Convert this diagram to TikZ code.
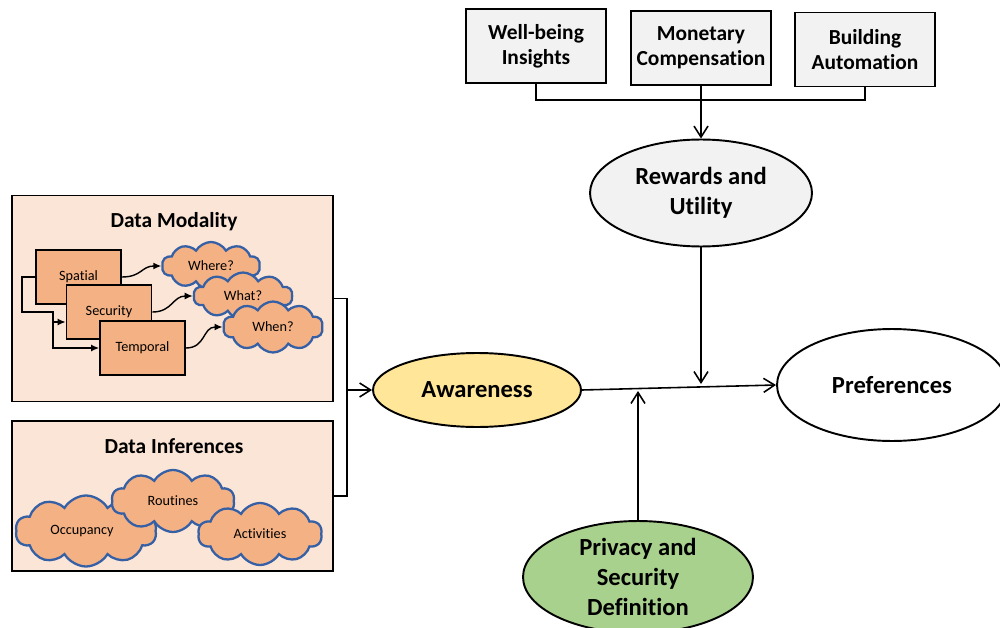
\documentclass[tikz,border=0pt]{standalone}
\usepackage{fontspec}
\setmainfont{Carlito}[Ligatures=NoCommon]
\usetikzlibrary{
  arrows.meta,
  shapes.geometric,
  shapes.symbols,
  positioning
}
\definecolor{panelfill}{HTML}{FBE5D6}
\definecolor{boxfill}{HTML}{F4B183}
\definecolor{puffline}{HTML}{3560A6}
\definecolor{greyfill}{HTML}{F2F2F2}
\definecolor{awarefill}{HTML}{FFE699}
\definecolor{privfill}{HTML}{A9D18E}
\tikzset{
  panel/.style={draw, line width=1.1pt, fill=panelfill, minimum width=6.42cm},
  mbox/.style={draw, line width=1pt, fill=boxfill,
    minimum width=1.7cm, minimum height=1.08cm, font=\fontsize{8.1}{9}\selectfont},
  puff/.style={cloud, cloud puffs=10, cloud puff arc=120, cloud ignores aspect,
    draw=puffline, line width=1.3pt, fill=boxfill, inner sep=0pt,
    font=\fontsize{8.1}{9}\selectfont},
  tbox/.style={draw, line width=1pt, fill=greyfill, minimum width=2.8cm,
    minimum height=1.48cm, align=center, font=\fontsize{12.2}{14.2}\selectfont\bfseries},
  oval/.style={ellipse, draw, line width=1.1pt, align=center, inner sep=0pt,
    font=\fontsize{14}{17}\selectfont\bfseries},
  title/.style={font=\fontsize{12.2}{14}\selectfont\bfseries},
  conn/.style={line width=0.9pt},
  arr/.style={conn, -{Straight Barb[length=2.2mm, width=2.8mm]}},
  arrs/.style={line width=0.8pt, -{Latex[length=1.6mm, width=1.4mm]}},
}
\begin{document}
\begin{tikzpicture}[x=0.02cm, y=-0.02cm]
\useasboundingbox (0,0) rectangle (1000,628);

% --- Left: data modality panel ---
\node[panel, minimum height=4.12cm] (dmod) at (172.5,298.5) {};
\node[title] (dmodt) at (174,222) {Data Modality};

\node[mbox] (spat) at (78.5,277) {Spatial};
\node[mbox] (sec)  at (109,312) {Security};
\node[mbox] (temp) at (142.5,348) {Temporal};

\node[puff, minimum width=1.96cm, minimum height=0.96cm] (where) at (211,266) {Where?};
\node[puff, minimum width=1.98cm, minimum height=0.94cm] (what)  at (243,296) {What?};
\node[puff, minimum width=2.0cm, minimum height=1.02cm]  (when)  at (273,327) {When?};

% elbows on the left of the stacked boxes
\coordinate (elb) at (22,312);
\coordinate (jA) at (53,312);
\coordinate (jB) at (53,322);
\draw[arrs] (spat.west) -| (elb) -- (jA) |- (temp.west);
\draw[arrs] (jB) -- (jB -| sec.west);

% curved links to the questions
\draw[arrs] (spat.east) .. controls +(20,0) and +(-20,0) .. (where.west);
\draw[arrs] (sec.east) .. controls +(20,0) and +(-20,0) .. (what.west);
\draw[arrs] (temp.east) .. controls +(20,0) and +(-20,0) .. (when.west);

% --- Left: data inferences panel ---
\node[panel, minimum height=3.0cm] (dinf) at (172.5,496) {};
\node[title] (dinft) at (174,446) {Data Inferences};

\node[puff, minimum width=2.82cm, minimum height=1.42cm] (occ) at (86,531) {};
\node (occt) at (82,531) {\fontsize{8.1}{9}\selectfont Occupancy};
\node[puff, minimum width=2.46cm, minimum height=1.24cm] (rout) at (173,501) {Routines};
\node[puff, minimum width=2.48cm, minimum height=1.24cm] (act) at (260,534) {Activities};

% bracket into awareness
\coordinate (brk) at (347,390);
\draw[conn] (dmod.east) -| (brk) |- (dinf.east);

% --- Middle and right ---
\node[oval, fill=awarefill, minimum width=4.16cm, minimum height=1.48cm] (aware) at (477,390) {Awareness};
\node[oval, fill=white, minimum width=4.6cm, minimum height=2.24cm] (pref) at (892,385) {Preferences};
\node[oval, fill=greyfill, minimum width=4.44cm, minimum height=2.14cm] (rew) at (701,193) {Rewards and\\Utility};
\node[oval, fill=privfill, minimum width=4.6cm, minimum height=2.24cm] (priv) at (638,577) {Privacy and\\Security\\Definition};

\draw[arr] (brk) -- (aware.west);
\draw[arr] (aware.east) -- (pref.west);

\coordinate (rtip) at (701,384);
\coordinate (ptip) at (638,391);
\draw[arr] (rew.south) -- (rtip);
\draw[arr] (priv.north) -- (ptip);

% --- Top: reward sources ---
\node[tbox] (well)  at (536,46)  {Well-being\\Insights};
\node[tbox] (money) at (701,48)  {Monetary\\Compensation};
\node[tbox] (build) at (865,49.5) {Building\\Automation};

\coordinate (bus) at (701,100);
\draw[conn] (well.south) |- (bus) -| (build.south);
\draw[arr] (money.south) -- (rew.north);

\end{tikzpicture}
\end{document}
